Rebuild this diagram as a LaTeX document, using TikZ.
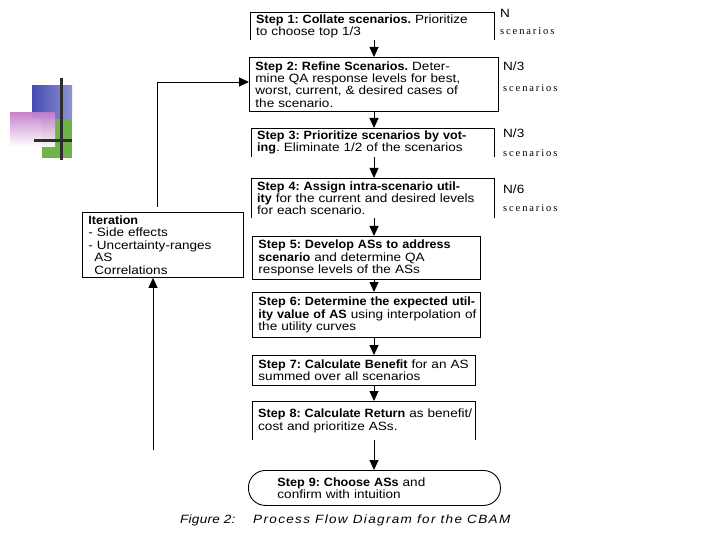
\documentclass[tikz,border=0pt]{standalone}
\usepackage{fontspec}
\setmainfont{Liberation Sans}[FakeStretch=1.13, BoldFeatures={FakeStretch=1.05}]
\newfontfamily\scenfont{Liberation Serif}[LetterSpace=18]
\usetikzlibrary{arrows.meta}
\definecolor{logoblue}{RGB}{68,76,178}
\definecolor{logogreen}{RGB}{112,178,72}
\definecolor{logopink}{RGB}{196,128,204}
\definecolor{logobar}{RGB}{45,45,45}
\newcommand\oneln[1]{\mbox{#1}}
\frenchspacing
\begin{document}
\begin{tikzpicture}[x=1pt,y=-1pt,
  txt/.style={font=\fontsize{12}{12.4}\selectfont},
  stepbox/.style={txt, draw, line width=0.9pt, align=left, anchor=north west, inner xsep=6pt, inner ysep=0pt},
  openbox/.style={txt, align=left, anchor=north west, inner xsep=6pt, inner ysep=0pt},
  boxline/.style={line width=0.9pt},
  arr/.style={-{Triangle[length=10pt,width=9pt]}, line width=0.9pt},
  sidelbl/.style={font=\fontsize{12}{12}\selectfont, anchor=west, inner sep=0pt},
  scen/.style={font=\scenfont\fontsize{10.5}{11}\selectfont, anchor=west, inner sep=0pt},
  captxt/.style={font=\itshape\fontsize{12}{12}\selectfont, anchor=west, inner sep=0pt}]
\useasboundingbox (0,0) rectangle (720,540);

% logo
\shade[left color=logoblue, right color=logoblue!60] (32,86) rectangle (72,119);
\fill[logogreen] (42,119) rectangle (72,158);
\shade[shading=axis, shading angle=225, top color=logopink, bottom color=white, opacity=0.95] (10,113) rectangle (55,147);
\fill[logobar] (59.5,78) rectangle (62.5,160);
\fill[logobar] (34,139.5) rectangle (72,142.5);

% step boxes
\node[openbox, text width=232pt, minimum height=28pt] (s1) at (250,12)
  {\oneln{\textbf{Step 1: Collate scenarios.} Prioritize}\\\oneln{to choose top 1/3}};
\draw[boxline] (s1.south west) -- (s1.north west) -- (s1.north east) -- (s1.south east);

\node[stepbox, text width=237pt, minimum height=54pt] (s2) at (249,57)
  {\oneln{\textbf{Step 2: Refine Scenarios.} Deter-}\\\oneln{mine QA response levels for best,}\\\oneln{worst, current, \& desired cases of}\\\oneln{the scenario.}};

\node[openbox, text width=231pt, minimum height=29pt] (s3) at (251,128)
  {\oneln{\textbf{Step 3: Prioritize scenarios by vot-}}\\\oneln{\textbf{ing}. Eliminate 1/2 of the scenarios}};
\draw[boxline] (s3.south west) -- (s3.north west) -- (s3.north east) -- (s3.south east);

\node[openbox, text width=231pt, minimum height=40pt] (s4) at (251,178)
  {\oneln{\textbf{Step 4: Assign intra-scenario util-}}\\\oneln{\textbf{ity} for the current and desired levels}\\\oneln{for each scenario.}};
\draw[boxline] (s4.south west) -- (s4.north west) -- (s4.north east) -- (s4.south east);

\node[stepbox, text width=216pt, minimum height=43pt] (s5) at (252,236)
  {\oneln{\textbf{Step 5: Develop ASs to address}}\\\oneln{\textbf{scenario} and determine QA}\\\oneln{response levels of the ASs}};

\node[stepbox, text width=216pt, minimum height=45pt] (s6) at (252,292)
  {\oneln{\textbf{Step 6: Determine the expected util-}}\\\oneln{\textbf{ity value of AS} using interpolation of}\\\oneln{the utility curves}};

\node[stepbox, text width=211pt, minimum height=30pt] (s7) at (252,355)
  {\oneln{\textbf{Step 7: Calculate Benefit} for an AS}\\\oneln{summed over all scenarios}};

\node[openbox, text width=211pt, minimum height=39pt] (s8) at (252,401)
  {\oneln{\textbf{Step 8: Calculate Return} as benefit/}\\\oneln{cost and prioritize ASs.}\\[9pt]};
\draw[boxline] (s8.south west) -- (s8.north west) -- (s8.north east) -- (s8.south east);

\node[txt, draw, line width=0.9pt, rounded corners=17pt, align=left, anchor=north west,
  inner xsep=29pt, inner ysep=0pt, text width=194pt, minimum height=35pt] (s9) at (248,470)
  {\oneln{\textbf{Step 9: Choose ASs} and}\\\oneln{confirm with intuition}};

% iteration box
\node[stepbox, text width=149pt, minimum height=65pt] (it) at (82,212)
  {\oneln{\textbf{Iteration}}\\\oneln{- Side effects}\\\oneln{- Uncertainty-ranges}\\\oneln{\hspace*{6pt}AS}\\\oneln{\hspace*{6pt}Correlations}};

% side labels
\node[sidelbl] (n1) at (500,13) {N};
\node[scen] (c1) at (500,31) {scenarios};
\node[sidelbl] (n2) at (503,66) {N/3};
\node[scen] (c2) at (503,88) {scenarios};
\node[sidelbl] (n3) at (503,133) {N/3};
\node[scen] (c3) at (503,153) {scenarios};
\node[sidelbl] (n4) at (503,189) {N/6};
\node[scen] (c4) at (503,208) {scenarios};

% main flow arrows
\coordinate (ax) at (374,0);
\draw[arr] (s1.south -| ax) -- (s2.north -| ax);
\draw[arr] (s2.south -| ax) -- (s3.north -| ax);
\draw[arr] (s3.south -| ax) -- (s4.north -| ax);
\draw[arr] (s4.south -| ax) -- (s5.north -| ax);
\draw[arr] (s5.south -| ax) -- (s6.north -| ax);
\draw[arr] (s6.south -| ax) -- (s7.north -| ax);
\draw[arr] (s7.south -| ax) -- (s8.north -| ax);
\draw[arr] (s8.south -| ax) -- (s9.north -| ax);

% feedback
\coordinate (fb) at (157,82);
\draw[arr, shorten <=5pt] (it.north -| fb) |- (s2.west |- fb);
\coordinate (bot) at (153,450);
\draw[arr] (bot) -- (it.south -| bot);

% caption
\node[captxt] (f1) at (180,520) {\addfontfeature{LetterSpace=2}Figure 2:};
\node[captxt] (f2) at (253,520) {\addfontfeature{LetterSpace=11}Process Flow Diagram for the CBAM};
\end{tikzpicture}
\end{document}
